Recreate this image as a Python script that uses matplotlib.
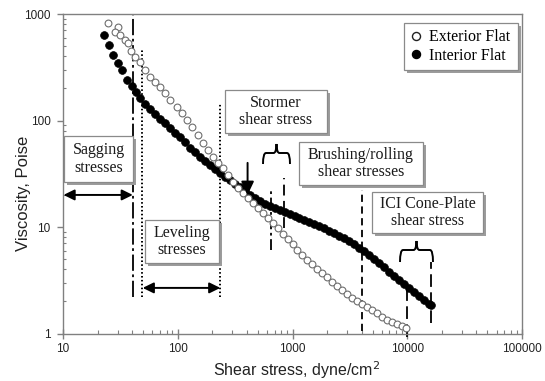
import numpy as np
import matplotlib
matplotlib.use('Agg')
import matplotlib.pyplot as plt
from matplotlib.patches import Rectangle, PathPatch
from matplotlib.path import Path
from matplotlib.ticker import NullFormatter

# Viscosity curves, shear stress (dyne/cm2) vs viscosity (Poise)
ext_x = [24.6, 30.1, 28.3, 31.3, 34.6, 36.7, 39.0, 42.3, 46.7, 51.6, 57.1, 63.1,
         69.7, 77.1, 85.2, 98.0, 108, 120, 132, 149, 165, 182, 202, 223, 246,
         272, 301, 333, 368, 406, 449, 496, 548, 606, 670, 741, 819, 905, 1000,
         1105, 1222, 1350, 1493, 1650, 1824, 2016, 2228, 2462, 2722, 3008,
         3325, 3675, 4062, 4490, 4963, 5485, 6062, 6700, 7406, 8185, 9046, 9802]
ext_y = [823, 755, 678, 635, 570, 534, 449, 395, 354, 298, 256, 230, 206, 181,
         156, 134, 118, 101, 86.9, 73.1, 61.5, 52.8, 45.4, 39.9, 35.8, 30.8,
         26.5, 23.2, 20.9, 18.7, 16.8, 15.1, 13.5, 12.2, 10.9, 9.79, 8.60, 7.71,
         6.92, 6.08, 5.46, 4.90, 4.49, 4.03, 3.70, 3.39, 3.04, 2.79, 2.56, 2.35,
         2.15, 2.02, 1.89, 1.77, 1.66, 1.56, 1.43, 1.34, 1.28, 1.23, 1.18, 1.13]

int_x = [22.7, 25.1, 27.2, 30.1, 32.6, 36.0, 39.8, 43.1, 46.7, 51.6, 57.1, 63.1,
         69.7, 77.1, 85.2, 94.2, 104, 115, 127, 141, 155, 172, 190, 210, 232,
         256, 283, 313, 346, 382, 423, 467, 516, 571, 631, 697, 771, 852, 942,
         1041, 1150, 1272, 1405, 1554, 1717, 1898, 2098, 2319, 2563, 2833, 3131,
         3460, 3824, 4227, 4672, 5164, 5707, 6310, 6973, 7708, 8519, 9416,
         10408, 11503, 12715, 14054, 15534, 16170]
int_y = [635, 512, 412, 347, 298, 240, 211, 185, 163, 143, 128, 115, 103, 94.7,
         85.0, 76.3, 70.0, 62.8, 55.2, 50.6, 45.4, 41.7, 38.2, 35.1, 32.1, 29.5,
         27.6, 25.3, 23.8, 21.8, 20.0, 18.7, 17.5, 16.4, 15.7, 15.1, 14.4, 13.8,
         13.2, 12.7, 12.2, 11.6, 11.1, 10.7, 10.2, 9.79, 9.17, 8.78, 8.23, 7.88,
         7.39, 6.92, 6.35, 5.95, 5.46, 5.01, 4.59, 4.21, 3.78, 3.47, 3.18, 2.92,
         2.68, 2.45, 2.25, 2.06, 1.89, 1.85]

# Shear stress ranges of the application / test methods
sag_limit = 40.6
level_range = [48.5, 235]
stormer_range = [644, 851]
brushing_start = 4000
ici_range = [10000, 16170]
crossover = [406, 20]

x_ticks = [10, 100, 1000, 10000, 100000]
x_labels = ['10', '100', '1000', '10000', '100000']
y_ticks = [1, 10, 100, 1000]
y_labels = ['1', '10', '100', '1000']

W, H = 545, 381
serif = 'Liberation Serif'
sans = 'Liberation Sans'

fig = plt.figure(figsize=(W / 100, H / 100), dpi=100)
ax = fig.add_axes([63 / W, 1 - 333.5 / H, (522 - 63) / W, (333.5 - 14) / H])
ax.set_xscale('log')
ax.set_yscale('log')
ax.set_xlim(10, 100000)
ax.set_ylim(1, 1000)

ax.plot(int_x, int_y, 'o', ms=5.6, mfc='black', mec='black', mew=0.5,
        label='Interior Flat', zorder=3)
ax.plot(ext_x, ext_y, 'o', ms=4.9, mfc='white', mec='#6e6e6e', mew=0.8,
        label='Exterior Flat', zorder=4)

# guide lines for the stress ranges
ax.plot([sag_limit, sag_limit], [2.2, 1000], color='black', lw=1.3,
        ls=(0, (9, 2, 1.5, 2)), zorder=2)
ax.plot([level_range[0], level_range[0]], [2.2, 469], color='black', lw=1.4,
        ls=(0, (0.8, 1.2)), zorder=2)
ax.plot([level_range[1], level_range[1]], [2.2, 143], color='black', lw=1.4,
        ls=(0, (0.8, 1.2)), zorder=2)
ax.plot([stormer_range[0], stormer_range[0]], [6.1, 22.3], color='black', lw=1.3,
        ls=(0, (6, 2, 1.5, 2)), zorder=2)
ax.plot([stormer_range[1], stormer_range[1]], [9.8, 28.8], color='black', lw=1.3,
        ls=(0, (6, 3)), zorder=2)
ax.plot([brushing_start, brushing_start], [1.05, 22.3], color='black', lw=1.3,
        ls=(0, (4, 2.5)), zorder=2)
ax.plot([ici_range[0], ici_range[0]], [0.93, 2.6], color='black', lw=1.3,
        ls=(0, (7, 3)), zorder=2, clip_on=False)
ax.plot([ici_range[1], ici_range[1]], [1.25, 4.7], color='black', lw=1.3,
        ls=(0, (7, 3)), zorder=2)

# range arrows
dbl = dict(arrowstyle='<|-|>,head_length=0.65,head_width=0.32', color='black',
           lw=1.4, mutation_scale=10, shrinkA=0, shrinkB=0)
ax.annotate('', xy=(sag_limit, 20), xytext=(10.1, 20), arrowprops=dbl)
ax.annotate('', xy=(level_range[1], 2.68), xytext=(level_range[0] + 1, 2.68),
            arrowprops=dbl)
ax.annotate('', xy=(crossover[0], crossover[1]), xytext=(crossover[0], 40),
            arrowprops=dict(arrowstyle='-|>,head_length=0.8,head_width=0.38',
                            color='black', lw=1.4, mutation_scale=10,
                            shrinkA=0, shrinkB=0), zorder=5)

# axes styling
for s in ax.spines.values():
    s.set_color('#808080')
    s.set_linewidth(1.0)
ax.set_xticks(x_ticks)
ax.set_xticklabels(x_labels)
ax.set_yticks(y_ticks)
ax.set_yticklabels(y_labels)
ax.xaxis.set_minor_formatter(NullFormatter())
ax.yaxis.set_minor_formatter(NullFormatter())
ax.tick_params(axis='x', which='major', direction='inout', length=7, width=1,
               color='#808080', pad=3, labelsize=8.5, labelcolor='#222222')
ax.tick_params(axis='x', which='minor', direction='in', length=3, width=0.8,
               color='#808080')
ax.tick_params(axis='y', which='major', direction='out', length=4, width=1,
               color='#808080', pad=5, labelsize=8.5, labelcolor='#222222')
ax.tick_params(axis='y', which='minor', direction='in', length=2, width=0.8,
               color='#808080')
for lab in ax.get_xticklabels() + ax.get_yticklabels():
    lab.set_fontfamily(sans)
ax.set_xlabel('Shear stress, dyne/cm$^2$', fontsize=11.5, family=sans,
              color='#222222')
ax.set_ylabel('Viscosity, Poise', fontsize=12, family=sans, color='#222222')
ax.xaxis.set_label_coords(0.51, -0.08)
ax.yaxis.set_label_coords(-0.07, 0.44)


def fx(px):
    return px / W


def fy(py):
    return 1 - py / H


def shadow_box(x0, y0, x1, y1, text=None):
    fig.patches.append(Rectangle((fx(x0 + 3), fy(y1 + 3)), fx(x1) - fx(x0),
                                 fy(y0) - fy(y1), transform=fig.transFigure,
                                 facecolor='#9c9c9c', edgecolor='none',
                                 zorder=6))
    fig.patches.append(Rectangle((fx(x0), fy(y1)), fx(x1) - fx(x0),
                                 fy(y0) - fy(y1), transform=fig.transFigure,
                                 facecolor='white', edgecolor='#8a8a8a',
                                 lw=0.9, zorder=7))
    if text:
        fig.text(fx((x0 + x1) / 2), fy((y0 + y1) / 2), text, ha='center',
                 va='center', family=serif, fontsize=11.5, linespacing=1.1,
                 color='#1a1a1a', zorder=8)


def brace(x0, x1, y_end, y_flat, y_peak, r=3):
    xm = (x0 + x1) / 2
    pts = [(x0, y_end), (x0, y_flat), (x0 + r, y_flat), (xm - r, y_flat),
           (xm, y_flat), (xm, y_peak),
           (xm, y_flat), (xm + r, y_flat), (x1 - r, y_flat),
           (x1, y_flat), (x1, y_end)]
    codes = [Path.MOVETO, Path.CURVE3, Path.CURVE3, Path.LINETO,
             Path.CURVE3, Path.CURVE3,
             Path.CURVE3, Path.CURVE3, Path.LINETO,
             Path.CURVE3, Path.CURVE3]
    verts = [(fx(a), fy(b)) for a, b in pts]
    fig.patches.append(PathPatch(Path(verts, codes), transform=fig.transFigure,
                                 fill=False, lw=1.4, edgecolor='black',
                                 zorder=6))


shadow_box(64, 136, 133, 182, 'Sagging\nstresses')
shadow_box(145, 220, 219, 263, 'Leveling\nstresses')
shadow_box(225, 90, 327, 133, 'Stormer\nshear stress')
shadow_box(299, 142, 423, 185, 'Brushing/rolling\nshear stresses')
shadow_box(372, 192, 483, 233, 'ICI Cone-Plate\nshear stress')
shadow_box(404, 23, 518, 70)

brace(263, 290, 164, 153, 144)
brace(400, 433, 262, 250, 241)

h_int, = ax.plot([], [], 'o', ms=5.8, mfc='black', mec='black')
h_ext, = ax.plot([], [], 'o', ms=5.8, mfc='white', mec='#222222', mew=1.0)
leg = fig.legend([h_ext, h_int], ['Exterior Flat', 'Interior Flat'],
                 loc='center', bbox_to_anchor=(fx(461), fy(46.5)),
                 frameon=False, handlelength=0.6, handletextpad=0.5,
                 labelspacing=0.15, borderpad=0,
                 prop={'family': serif, 'size': 11.5})
leg.set_zorder(9)

fig.savefig('out.png', dpi=100, facecolor='white')
